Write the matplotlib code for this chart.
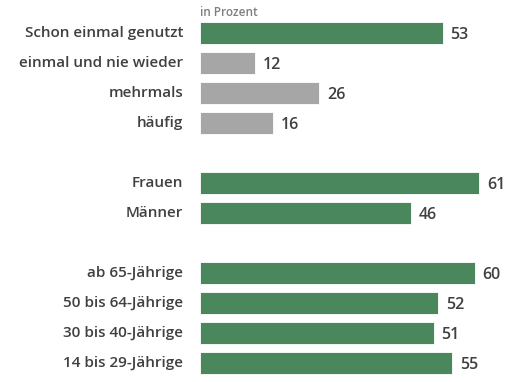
import matplotlib
matplotlib.use('Agg')
import matplotlib.pyplot as plt

# Daten (in Prozent)
labels = ['Schon einmal genutzt', 'einmal und nie wieder', 'mehrmals', 'häufig',
          '',
          'Frauen', 'Männer',
          '',
          'ab 65-Jährige', '50 bis 64-Jährige', '30 bis 40-Jährige', '14 bis 29-Jährige']
values = [53, 12, 26, 16, None, 61, 46, None, 60, 52, 51, 55]
is_gray = [False, True, True, True, False, False, False, False, False, False, False, False]

green = '#4A875C'
gray = '#A6A6A6'
text_col = '#404040'

plt.rcParams['font.family'] = ['Open Sans', 'DejaVu Sans']

fig = plt.figure(figsize=(5.25, 3.82), dpi=100)
ax = fig.add_axes([200 / 525, 4 / 382, 320 / 525, 360 / 382])

for i, (lab, val, g) in enumerate(zip(labels, values, is_gray)):
    if val is None:
        continue
    ax.barh(i, val, height=0.73, color=gray if g else green,
            edgecolor='white', linewidth=0.6)
    ax.text(val + 1.7, i + 0.08, str(val), va='center', ha='left',
            fontsize=11.5, fontweight='semibold', color=text_col)
    ax.text(-3.7, i, lab, va='center', ha='right', fontsize=11,
            fontweight='semibold', color=text_col)

ax.set_xlim(0, 320 / 4.58)
ax.set_ylim(11.5, -0.5)
ax.axis('off')

ax.text(0.1, -0.7, 'in Prozent', va='center', ha='left', fontsize=8.5,
        fontweight='semibold', color='#7F7F7F')

fig.savefig('out.png', dpi=100)
